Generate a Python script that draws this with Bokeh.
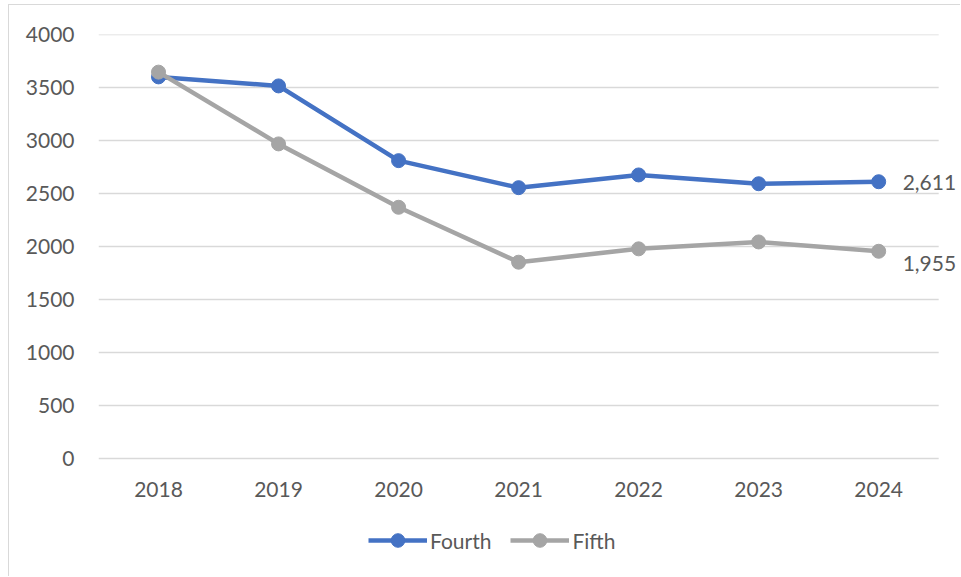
from bokeh.plotting import figure
from bokeh.models import (ColumnDataSource, Range1d, Legend, LegendItem, LabelSet,
                          FixedTicker)
from bokeh.core.properties import value
from bokeh.embed import file_html
from bokeh.resources import INLINE

# Annual counts for the two series
years = ["2018", "2019", "2020", "2021", "2022", "2023", "2024"]
fourth = [3600, 3515, 2810, 2555, 2675, 2592, 2611]
fifth = [3645, 2968, 2370, 1852, 1978, 2043, 1955]
y_ticks = [0, 500, 1000, 1500, 2000, 2500, 3000, 3500, 4000]

BLUE = "#4472C4"
GRAY = "#A5A5A5"
TEXT = "#595959"
GRID = "#D9D9D9"
FONT = "Lato"

pos = list(range(len(years)))          # category slots, one unit wide
x_lo, x_hi = -0.5, len(years) - 0.5    # edges of the category band

# the frame runs down to the bottom edge; the space under the zero line
# holds the year labels and the legend
y_hi = y_ticks[-1]
y_lo = -y_hi * 119 / 424

p = figure(
    width=952, height=572,
    # extra room on the right so the end labels are not cut off
    x_range=Range1d(x_lo, x_hi + 0.19),
    y_range=Range1d(y_lo, y_hi),
    output_backend="svg", toolbar_location=None,
    min_border_left=89, min_border_right=0, min_border_top=29, min_border_bottom=0,
    styles={"margin-left": "8px", "margin-top": "4px",
            "border-left": "1px solid #D9D9D9", "border-top": "1px solid #D9D9D9"},
)
p.outline_line_color = None
p.background_fill_color = "white"
p.border_fill_color = "white"

# horizontal gridlines across the category band only
p.segment(x0=x_lo, x1=x_hi, y0=y_ticks, y1=y_ticks, line_color=GRID, line_width=1.3)
p.xgrid.grid_line_color = None
p.ygrid.grid_line_color = None

src = ColumnDataSource(dict(x=pos, fourth=fourth, fifth=fifth))

l4 = p.line("x", "fourth", source=src, line_color=BLUE, line_width=4.5)
m4 = p.scatter("x", "fourth", source=src, size=14, fill_color=BLUE, line_color=BLUE)
l5 = p.line("x", "fifth", source=src, line_color=GRAY, line_width=4.5)
m5 = p.scatter("x", "fifth", source=src, size=14, fill_color=GRAY, line_color=GRAY)

# axes
p.xaxis.fixed_location = 0
p.xaxis.ticker = FixedTicker(ticks=pos)
p.xaxis.major_label_overrides = {i: y for i, y in zip(pos, years)}
p.yaxis.ticker = FixedTicker(ticks=y_ticks)
for ax in (p.xaxis[0], p.yaxis[0]):
    ax.axis_line_color = None
    ax.major_tick_line_color = None
    ax.minor_tick_line_color = None
    ax.major_label_text_font = FONT
    ax.major_label_text_font_size = "21px"
    ax.major_label_text_color = TEXT
p.yaxis.major_label_standoff = 18
p.xaxis.major_label_standoff = 17

# end-of-series value labels
end_src = ColumnDataSource(dict(
    x=[pos[-1], pos[-1]],
    y=[fourth[-1], fifth[-1]],
    text=[f"{fourth[-1]:,}", f"{fifth[-1]:,}"],
    dy=[-1, -12],
))
p.add_layout(LabelSet(x="x", y="y", text="text", y_offset="dy", x_offset=24, source=end_src,
                      text_font=value(FONT), text_font_size="21px", text_color=TEXT,
                      text_baseline="middle", text_align="left"))

legend = Legend(
    items=[LegendItem(label="Fourth", renderers=[l4, m4]),
           LegendItem(label="Fifth", renderers=[l5, m5])],
    orientation="horizontal", location=(270, 20),
    label_text_font=FONT, label_text_font_size="21px", label_text_color=TEXT,
    glyph_width=59, glyph_height=34, label_standoff=3, spacing=19,
    padding=4, margin=0, border_line_color=None, background_fill_color=None,
)
p.add_layout(legend, "center")

open("out.html", "w").write(file_html(p, INLINE))
